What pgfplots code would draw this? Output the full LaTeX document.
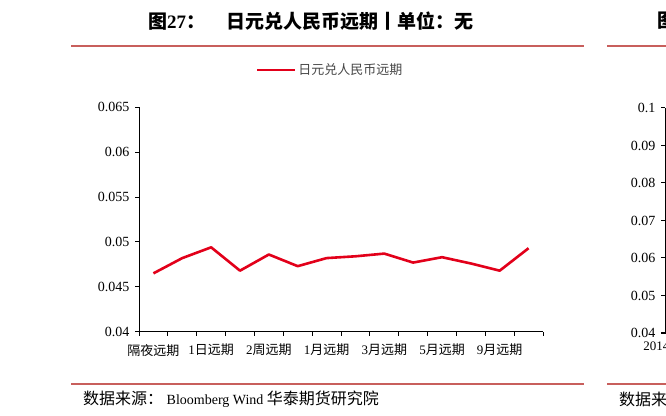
\documentclass[border=0pt]{standalone}
\usepackage{fontspec}
\usepackage{pgfplots}
\pgfplotsset{compat=1.18}
\setmainfont{Liberation Serif}
\newfontfamily\cjk{Noto Sans CJK SC}
\definecolor{linered}{RGB}{226,0,26}
\definecolor{rulered}{RGB}{200,95,92}
\definecolor{legendgray}{RGB}{70,70,70}
\newcommand\xl[2]{{\rmfamily #1}{\cjk #2}}

\begin{document}
\begin{tikzpicture}[x=1pt,y=1pt]
\useasboundingbox (0,0) rectangle (666,415);
% title and rules
\node[anchor=west,inner sep=0] at (148,394) {\fontsize{19}{22}\selectfont\bfseries\cjk 图{\rmfamily 27}：\hspace{1.1em}日元兑人民币远期丨单位：无};
\node[anchor=west,inner sep=0] at (657,394) {\fontsize{19}{22}\selectfont\bfseries\cjk 图{\rmfamily 28}：};
\draw[rulered,line width=1.6pt] (71,369) -- (584,369);
\draw[rulered,line width=1.6pt] (607,369) -- (666,369);
\draw[rulered,line width=1.6pt] (71,31) -- (584,31);
\draw[rulered,line width=1.6pt] (607,31) -- (666,31);
\node[anchor=west,inner sep=0] at (83,16) {\fontsize{16}{18}\selectfont\cjk 数据来源：{\rmfamily\fontsize{14}{16}\selectfont\ Bloomberg Wind }华泰期货研究院};
\node[anchor=west,inner sep=0] at (619,16) {\fontsize{16}{18}\selectfont\cjk 数据来源：};

\begin{axis}[
  at={(139pt,83.3pt)}, anchor=south west,
  scale only axis, width=404pt, height=224.4pt,
  xmin=0.5, xmax=14.5, ymin=0.04, ymax=0.065,
  scaled y ticks=false,
  axis x line*=bottom, axis y line*=left,
  axis line style={line width=1pt,-},
  tick align=outside, major tick length=4pt, minor tick length=4pt,
  tick style={black,line width=1pt},
  major x tick style={draw=none},
  xtick={1,3,...,13},
  xticklabels={{\cjk 隔夜远期},\xl{1}{日远期},\xl{2}{周远期},\xl{1}{月远期},\xl{3}{月远期},\xl{5}{月远期},\xl{9}{月远期}},
  minor xtick={0.5,1.5,...,14.5},
  ytick={0.04,0.045,0.05,0.055,0.06,0.065},
  yticklabels={0.04,0.045,0.05,0.055,0.06,0.065},
  x tick label style={font=\fontsize{13}{15}\selectfont, text=black, yshift=-5pt},
  y tick label style={font=\fontsize{14}{16}\selectfont, text=black, xshift=-2pt},
  legend style={at={(rel axis cs:0.473,1.166)}, anchor=center, draw=none, fill=none,
    font=\fontsize{13}{15}\selectfont\cjk, text=legendgray, legend cell align=left},
  legend image code/.code={\draw[#1] (0pt,0pt) -- (38pt,0pt);},
]
\addplot[linered, line width=2.6pt, line join=round] coordinates {
(1,0.0465) (2,0.0482) (3,0.0494) (4,0.0468) (5,0.0486) (6,0.0473) (7,0.0482)
(8,0.0484) (9,0.0487) (10,0.0477) (11,0.0483) (12,0.0476) (13,0.0468) (14,0.0493)
};
\addlegendentry{日元兑人民币远期}
\end{axis}

\begin{axis}[
  at={(665pt,82pt)}, anchor=south west,
  scale only axis, width=300pt, height=225pt,
  xmin=0, xmax=1, ymin=0.04, ymax=0.1,
  scaled y ticks=false,
  axis x line*=bottom, axis y line*=left,
  axis line style={line width=1pt,-},
  tick align=outside, major tick length=4pt,
  tick style={black,line width=1pt},
  xtick={0}, xticklabels={2014-01},
  major x tick style={draw=none},
  ytick={0.04,0.05,0.06,0.07,0.08,0.09,0.1},
  yticklabels={0.04,0.05,0.06,0.07,0.08,0.09,0.1},
  x tick label style={font=\fontsize{13}{15}\selectfont, yshift=-1pt},
  y tick label style={font=\fontsize{14}{16}\selectfont, xshift=-2pt},
]
\end{axis}
\end{tikzpicture}
\end{document}
